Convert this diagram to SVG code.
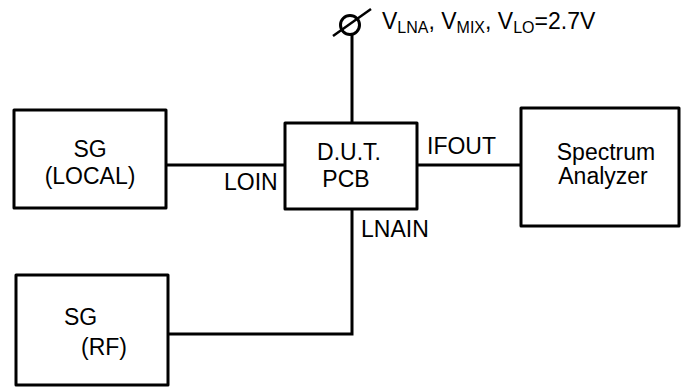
<svg xmlns="http://www.w3.org/2000/svg" width="682" height="387" viewBox="0 0 682 387">
<style>
.box{fill:#fff;stroke:#000;stroke-width:3;stroke-linejoin:round}
.wire{fill:none;stroke:#000;stroke-width:3}
text{font-family:"Liberation Sans",Arial,sans-serif;font-size:23px;fill:#000}
.c{text-anchor:middle}
.sub{font-size:16px}
</style>
<rect width="682" height="387" fill="#fff"/>
<g id="connectors">
<line class="wire" x1="352" y1="34" x2="352" y2="123"/>
<line class="wire" x1="166" y1="165" x2="285" y2="165"/>
<line class="wire" x1="417" y1="165" x2="521" y2="165"/>
<polyline class="wire" points="352,209 352,334 168,334"/>
</g>
<g id="supply">
<circle cx="350" cy="25" r="9.5" fill="none" stroke="#000" stroke-width="3"/>
<line x1="333" y1="36" x2="371" y2="9" stroke="#000" stroke-width="2.5"/>
<text x="382" y="29">V<tspan class="sub" dy="4">LNA</tspan><tspan dy="-4">, V</tspan><tspan class="sub" dy="4">MIX</tspan><tspan dy="-4">, V</tspan><tspan class="sub" dy="4">LO</tspan><tspan dy="-4">=2.7V</tspan></text>
</g>
<g id="sg-local">
<rect class="box" x="14" y="110" width="152" height="98"/>
<text class="c" x="90" y="157">SG</text>
<text class="c" x="90" y="184">(LOCAL)</text>
</g>
<g id="dut">
<rect class="box" x="285" y="123" width="132" height="86"/>
<text class="c" x="349" y="160">D.U.T.</text>
<text class="c" x="346" y="187">PCB</text>
</g>
<g id="spectrum">
<rect class="box" x="521" y="108" width="158" height="118"/>
<text class="c" x="606" y="160">Spectrum</text>
<text class="c" x="603" y="184">Analyzer</text>
</g>
<g id="sg-rf">
<rect class="box" x="16" y="275" width="152" height="110"/>
<text x="64" y="325">SG</text>
<text x="81" y="355">(RF)</text>
</g>
<g id="labels">
<text x="224" y="190">LOIN</text>
<text x="427" y="154">IFOUT</text>
<text x="361" y="237">LNAIN</text>
</g>
</svg>
